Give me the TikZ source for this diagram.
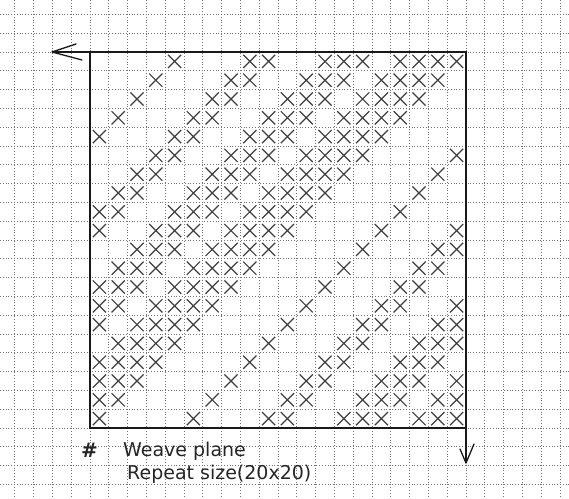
\documentclass[tikz,border=0pt]{standalone}
\usepackage{fontspec}
\setmainfont{DejaVu Sans}
\usetikzlibrary{shapes.misc}

\begin{document}
\begin{tikzpicture}[x=1pt,y=-1pt,
  dots/.style={black!55,line width=0.9pt,dash pattern=on 1pt off 1.8pt},
  xmark/.style={cross out,draw=black!75,line width=1.2pt,minimum size=12pt,inner sep=0pt},
  frame/.style={line width=1.6pt,black!90},
  barb/.style={line width=1.3pt,black!90,line cap=round},
  lbl/.style={anchor=base west,inner sep=0pt,text=black!85,font=\fontsize{19}{19}\selectfont}]
\useasboundingbox[fill=white] (0,0) rectangle (569,498);
% dotted paper
\foreach \k in {-4,...,25}
  \draw[dots] (90+18.8*\k,0) -- (90+18.8*\k,498);
\foreach \k in {-2,...,23}
  \draw[dots] (0,52+18.8*\k) -- (569,52+18.8*\k);
% repeat, every row one end to the left
\foreach \r in {0,...,19}
  \foreach \c in {4,8,9,12,13,14,16,17,18,19}{
    \pgfmathtruncatemacro\col{mod(\c-\r+20,20)}
    \node[xmark] (x-\r-\col) at (90+18.8*\col+9.4,52+18.8*\r+9.4) {};
  }
% frame and axes
\coordinate (tl) at (90,52);
\coordinate (br) at (466,428);
\coordinate (ltip) at (52,52);
\coordinate (btip) at (466,463);
\draw[frame] (tl) rectangle (br);
\draw[frame] (tl) -- (ltip);
\draw[frame] (br) -- (btip);
\draw[barb] (ltip) -- ++(24,-8) (ltip) -- ++(30,8);
\draw[barb] (btip) -- ++(-6,-14) (btip) -- ++(8,-19);
% legend
\node[lbl,font=\bfseries\fontsize{20}{20}\selectfont] (hash) at (81,457) {\#};
\node[lbl] (weave) at (123,456) {Weave plane};
\node[lbl] (rep) at (127,479) {Repeat size(20x20)};
\end{tikzpicture}
\end{document}
